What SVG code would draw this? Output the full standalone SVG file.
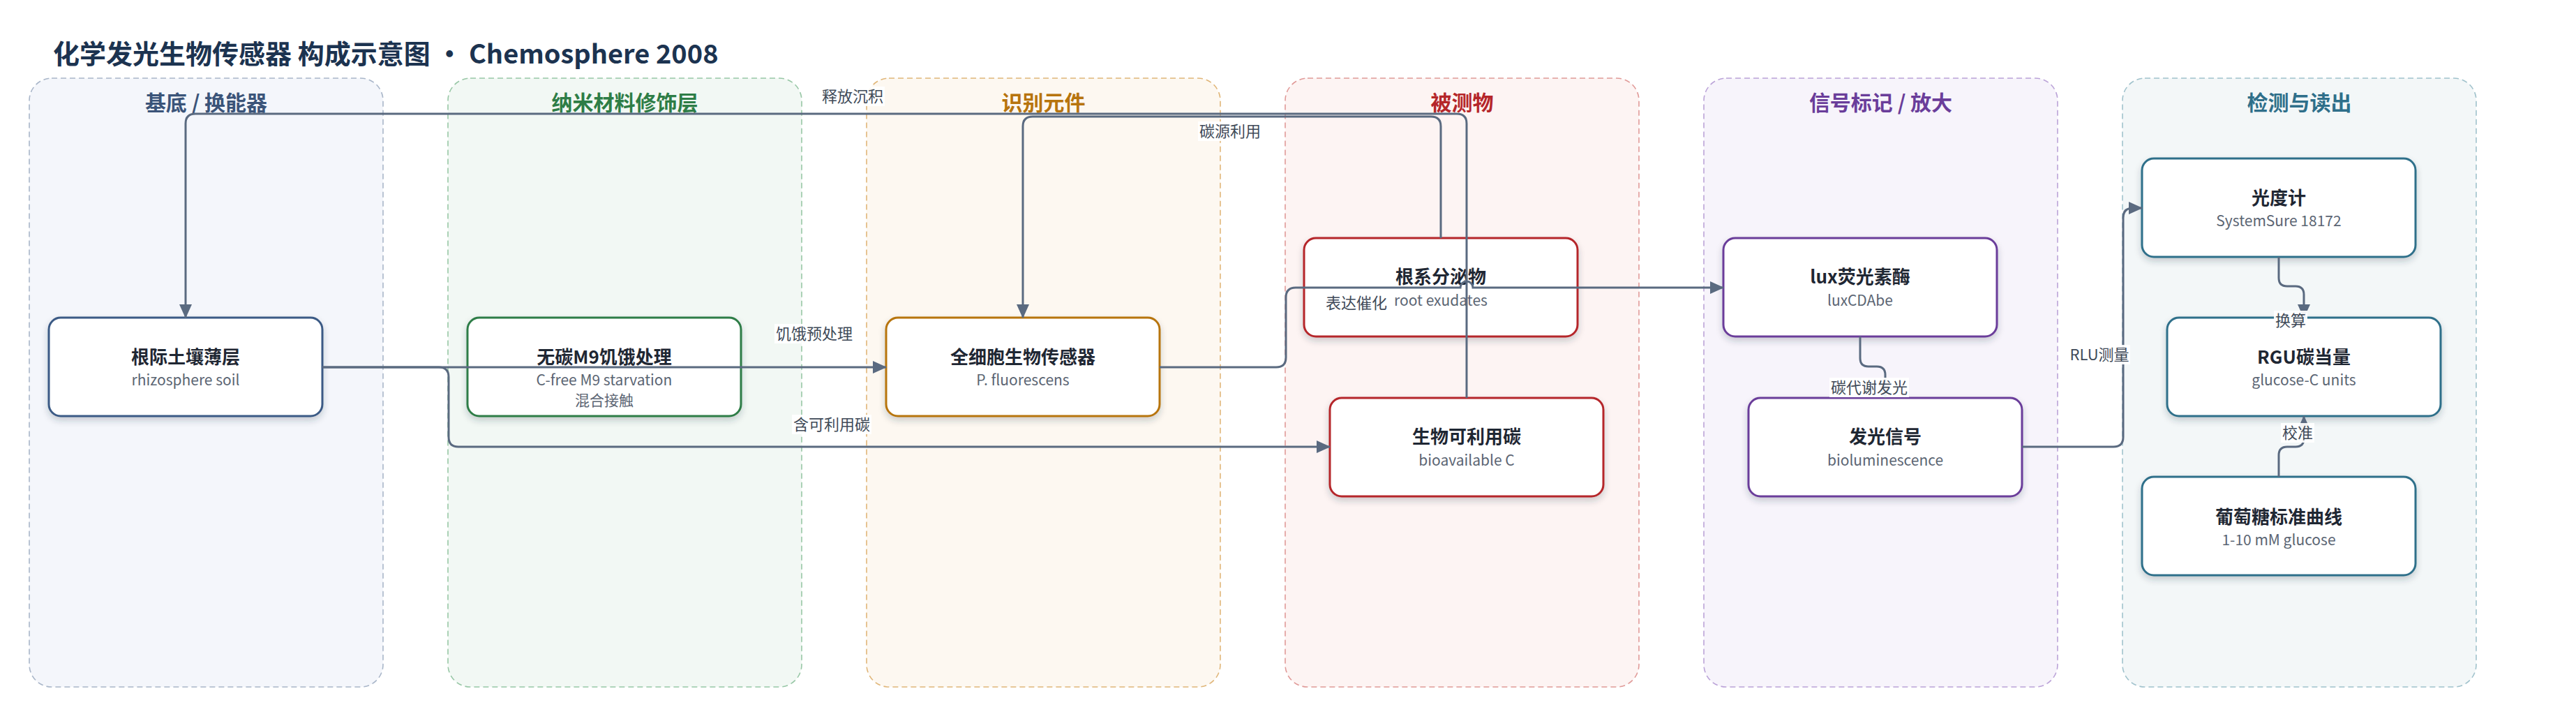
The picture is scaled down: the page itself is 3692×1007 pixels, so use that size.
<svg xmlns="http://www.w3.org/2000/svg" width="3692" height="1007" viewBox="0 0 3692 1007">
<style>
  text { font-family: "Noto Sans CJK SC", "Noto Sans", "Liberation Sans", sans-serif; }
  .title { font-size: 38px; font-weight: 700; fill: #1c3350; }
  .lane { stroke-width: 1.6; stroke-dasharray: 8 5; }
  .lt { font-size: 30px; font-weight: 700; text-anchor: middle; }
  .node rect { fill: #ffffff; stroke-width: 3; filter: url(#sh); }
  .nt { font-size: 26px; font-weight: 700; fill: #1f2733; text-anchor: middle; }
  .ns { font-size: 21px; fill: #5b6573; text-anchor: middle; }
  .edge { fill: none; stroke: #5a6a80; stroke-width: 3; marker-end: url(#arr); }
  .lbg { fill: #ffffff; opacity: 0.92; }
  .lbl { font-size: 22px; fill: #404a58; text-anchor: middle; }
</style>
<defs>
  <marker id="arr" viewBox="0 0 20 18" refX="19" refY="9" markerWidth="20" markerHeight="18" markerUnits="userSpaceOnUse" orient="auto">
    <path d="M0,0 L20,9 L0,18 z" fill="#5a6a80"/>
  </marker>
  <filter id="sh" x="-10%" y="-10%" width="120%" height="140%">
    <feDropShadow dx="0" dy="5" stdDeviation="5" flood-color="#2a3340" flood-opacity="0.22"/>
  </filter>
</defs>
<rect width="3692" height="1007" fill="#ffffff"/>
<text class="title" x="76" y="91">化学发光生物传感器 构成示意图 · Chemosphere 2008</text>

<g id="lanes">
  <rect class="lane" x="42" y="112" width="507" height="872" rx="32" fill="#f4f6fb" stroke="#a9b6c9"/>
  <text class="lt" x="295.5" y="158" fill="#3b5479">基底 / 换能器</text>
  <rect class="lane" x="642" y="112" width="507" height="872" rx="32" fill="#f2f8f4" stroke="#98c7a6"/>
  <text class="lt" x="895.5" y="158" fill="#2e7d46">纳米材料修饰层</text>
  <rect class="lane" x="1242" y="112" width="507" height="872" rx="32" fill="#fdf8f1" stroke="#e0b679"/>
  <text class="lt" x="1495.5" y="158" fill="#b7740d">识别元件</text>
  <rect class="lane" x="1842" y="112" width="507" height="872" rx="32" fill="#fdf4f3" stroke="#e09a98"/>
  <text class="lt" x="2095.5" y="158" fill="#b5262a">被测物</text>
  <rect class="lane" x="2442" y="112" width="507" height="872" rx="32" fill="#f7f4fb" stroke="#bba3d8"/>
  <text class="lt" x="2695.5" y="158" fill="#6a3d9a">信号标记 / 放大</text>
  <rect class="lane" x="3042" y="112" width="507" height="872" rx="32" fill="#f3f7f8" stroke="#a0c2cc"/>
  <text class="lt" x="3295.5" y="158" fill="#2f6f8a">检测与读出</text>
</g>

<g id="n-soil" class="node">
  <rect x="70" y="455" width="392" height="141" rx="17" stroke="#3b5a85"/>
  <text class="nt" x="266" y="521">根际土壤薄层</text>
  <text class="ns" x="266" y="552">rhizosphere soil</text>
</g>
<g id="n-m9" class="node">
  <rect x="670" y="455" width="392" height="141" rx="17" stroke="#2e7d46"/>
  <text class="nt" x="866" y="521">无碳M9饥饿处理</text>
  <text class="ns" x="866" y="552">C-free M9 starvation</text>
  <text class="ns" x="866" y="581">混合接触</text>
</g>
<g id="n-cell" class="node">
  <rect x="1270" y="455" width="392" height="141" rx="17" stroke="#b7740d"/>
  <text class="nt" x="1466" y="521">全细胞生物传感器</text>
  <text class="ns" x="1466" y="552">P. fluorescens</text>
</g>
<g id="n-exud" class="node">
  <rect x="1869" y="341" width="392" height="141" rx="17" stroke="#b5262a"/>
  <text class="nt" x="2065" y="406">根系分泌物</text>
  <text class="ns" x="2065" y="438">root exudates</text>
</g>
<g id="n-bioc" class="node">
  <rect x="1906" y="570" width="392" height="141" rx="17" stroke="#b5262a"/>
  <text class="nt" x="2102" y="635">生物可利用碳</text>
  <text class="ns" x="2102" y="667">bioavailable C</text>
</g>
<g id="n-lux" class="node">
  <rect x="2470" y="341" width="392" height="141" rx="17" stroke="#6a3d9a"/>
  <text class="nt" x="2666" y="406">lux荧光素酶</text>
  <text class="ns" x="2666" y="438">luxCDAbe</text>
</g>
<g id="n-biolum" class="node">
  <rect x="2506" y="570" width="392" height="141" rx="17" stroke="#6a3d9a"/>
  <text class="nt" x="2702" y="635">发光信号</text>
  <text class="ns" x="2702" y="667">bioluminescence</text>
</g>
<g id="n-lum" class="node">
  <rect x="3070" y="227" width="392" height="141" rx="17" stroke="#2f6f8a"/>
  <text class="nt" x="3266" y="293">光度计</text>
  <text class="ns" x="3266" y="324">SystemSure 18172</text>
</g>
<g id="n-rgu" class="node">
  <rect x="3106" y="455" width="392" height="141" rx="17" stroke="#2f6f8a"/>
  <text class="nt" x="3302" y="521">RGU碳当量</text>
  <text class="ns" x="3302" y="552">glucose-C units</text>
</g>
<g id="n-gluc" class="node">
  <rect x="3070" y="683" width="392" height="141" rx="17" stroke="#2f6f8a"/>
  <text class="nt" x="3266" y="750">葡萄糖标准曲线</text>
  <text class="ns" x="3266" y="781">1-10 mM glucose</text>
</g>

<g id="connectors">
  <path class="edge" d="M462,526 H1270"/>
  <path class="edge" d="M462,526 H629 Q643,526 643,540 V626 Q643,640 657,640 H1906"/>
  <path class="edge" d="M2065,341 V181 Q2065,167 2051,167 H1480 Q1466,167 1466,181 V455"/>
  <path class="edge" d="M2102,570 V177 Q2102,163 2088,163 H280 Q266,163 266,177 V455"/>
  <path class="edge" d="M1662,526 H1829 Q1843,526 1843,512 V426 Q1843,412 1857,412 H2093 A9,9 0 0 1 2111,412 H2470"/>
  <path class="edge" d="M2666,482 V513 Q2666,525 2678,525 H2690 Q2702,525 2702,537 V570"/>
  <path class="edge" d="M2898,640 H3029 Q3043,640 3043,626 V312 Q3043,298 3057,298 H3070"/>
  <path class="edge" d="M3266,368 V398 Q3266,410 3278,410 H3290 Q3302,410 3302,422 V455"/>
  <path class="edge" d="M3266,683 V652 Q3266,640 3278,640 H3290 Q3302,640 3302,628 V596"/>

  <g id="labels">
    <rect class="lbg" x="1176" y="124" width="92" height="28"/>
    <text class="lbl" x="1222" y="146">释放沉积</text>
    <rect class="lbg" x="1717" y="174" width="92" height="28"/>
    <text class="lbl" x="1763" y="196">碳源利用</text>
    <rect class="lbg" x="1110" y="464" width="114" height="28"/>
    <text class="lbl" x="1167" y="486">饥饿预处理</text>
    <rect class="lbg" x="1135" y="594" width="114" height="28"/>
    <text class="lbl" x="1192" y="616">含可利用碳</text>
    <rect class="lbg" x="1898" y="420" width="92" height="28"/>
    <text class="lbl" x="1944" y="442">表达催化</text>
    <rect class="lbg" x="2622" y="541" width="114" height="28"/>
    <text class="lbl" x="2679" y="563">碳代谢发光</text>
    <rect class="lbg" x="2965" y="494" width="88" height="28"/>
    <text class="lbl" x="3009" y="516">RLU测量</text>
    <rect class="lbg" x="3259" y="445" width="48" height="28"/>
    <text class="lbl" x="3283" y="467">换算</text>
    <rect class="lbg" x="3269" y="606" width="48" height="28"/>
    <text class="lbl" x="3293" y="628">校准</text>
  </g>
</g>
</svg>
